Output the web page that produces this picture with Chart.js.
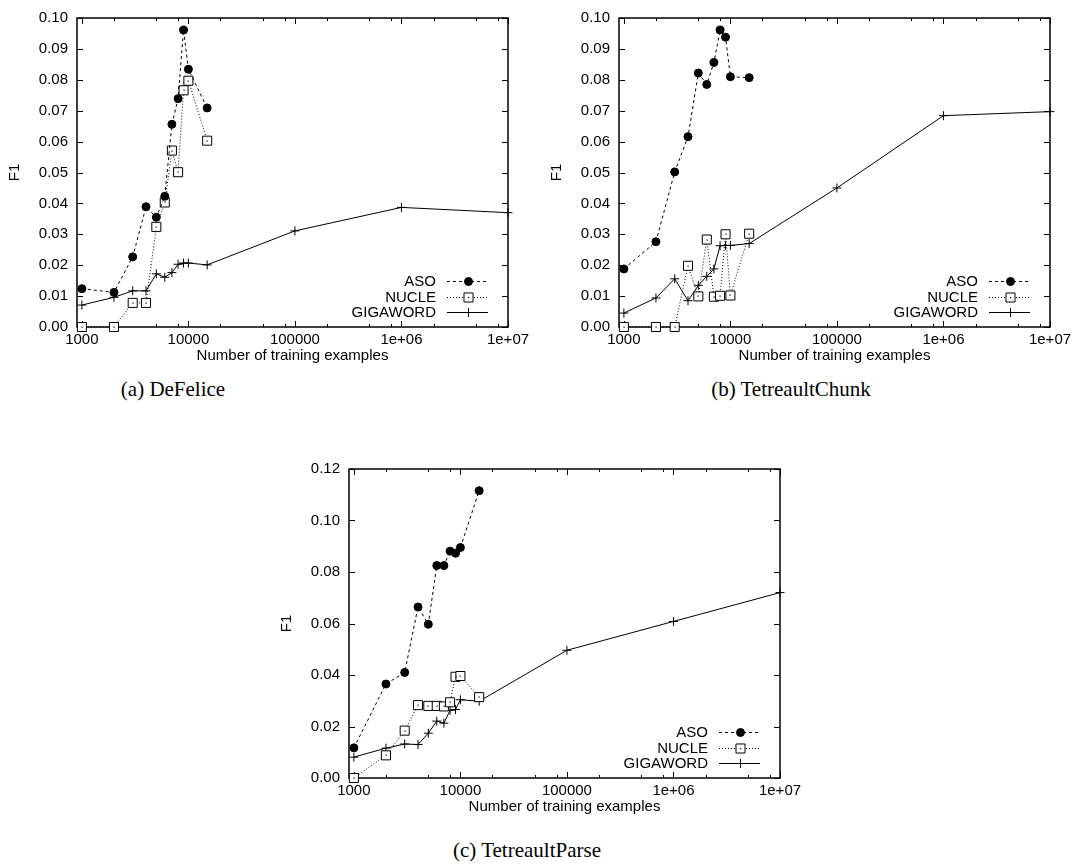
<!DOCTYPE html>
<html>
<head>
<meta charset="utf-8">
<script src="https://cdn.jsdelivr.net/npm/chart.js@4.4.0/dist/chart.umd.min.js"></script>
<style>
  html, body { margin: 0; padding: 0; background: #fff; }
  body { width: 1081px; height: 867px; position: relative; overflow: hidden; }
  canvas { position: absolute; }
  .cap { position: absolute; font-family: "Liberation Serif", "Times New Roman", serif; font-size: 21px; color: #000; white-space: nowrap; transform: translate(-50%, -50%); }
</style>
</head>
<body>
<canvas id="chartA" width="540" height="370" style="left:0px;top:0px"></canvas>
<canvas id="chartB" width="540" height="370" style="left:542px;top:0px"></canvas>
<canvas id="chartC" width="540" height="370" style="left:272px;top:451px"></canvas>
<div class="cap" style="left:173px;top:389px">(a) DeFelice</div>
<div class="cap" style="left:791px;top:389px">(b) TetreaultChunk</div>
<div class="cap" style="left:527px;top:850px">(c) TetreaultParse</div>
<script>
// training set sizes (x values)
var examples = [1000, 2000, 3000, 4000, 5000, 6000, 7000, 8000, 9000, 10000, 15000]
var gigaExamples = [1000, 2000, 3000, 4000, 5000, 6000, 7000, 8000, 9000, 10000, 15000, 100000, 1000000, 10000000]

// x axis labels
var xTickValues = [1000, 10000, 100000, 1000000, 10000000]
var xTickLabels = ['1000', '10000', '100000', '1e+06', '1e+07']

// (a) DeFelice
var asoDeFelice = [0.0124, 0.0112, 0.0227, 0.0389, 0.0355, 0.0423, 0.0656, 0.0739, 0.0961, 0.0834, 0.0709]
var nucleDeFelice = [0, 0, 0.0078, 0.0078, 0.0324, 0.0403, 0.0571, 0.0501, 0.0766, 0.0797, 0.0603]
var gigaDeFelice = [0.0071, 0.0096, 0.0117, 0.0117, 0.0172, 0.0161, 0.0176, 0.0203, 0.0207, 0.0207, 0.0201, 0.0311, 0.0387, 0.0370]

// (b) TetreaultChunk
var asoChunk = [0.0188, 0.0276, 0.0502, 0.0616, 0.0822, 0.0785, 0.0856, 0.0961, 0.0938, 0.0810, 0.0807]
var nucleChunk = [0, 0, 0, 0.0198, 0.0099, 0.0283, 0.0098, 0.0101, 0.0300, 0.0102, 0.0302]
var gigaChunk = [0.0045, 0.0094, 0.0156, 0.0085, 0.0135, 0.0164, 0.0188, 0.0263, 0.0264, 0.0264, 0.0270, 0.0450, 0.0684, 0.0697]

// (c) TetreaultParse
var asoParse = [0.0117, 0.0365, 0.0410, 0.0664, 0.0597, 0.0825, 0.0825, 0.0881, 0.0873, 0.0895, 0.1116]
var nucleParse = [0, 0.0088, 0.0184, 0.0283, 0.0280, 0.0280, 0.0278, 0.0294, 0.0393, 0.0396, 0.0314]
var gigaParse = [0.0081, 0.0116, 0.0132, 0.0130, 0.0174, 0.0221, 0.0213, 0.0263, 0.0266, 0.0304, 0.0298, 0.0496, 0.0608, 0.0720]

var seriesNames = ['ASO', 'NUCLE', 'GIGAWORD']
var minorSteps = [2, 5, 8]

Chart.defaults.font.family = '"Liberation Sans", Arial, Helvetica, sans-serif'
Chart.defaults.font.size = 15
Chart.defaults.color = '#000'

function toPoints(xs, ys) {
  return ys.map(function(v, i) { return { x: xs[i], y: v } })
}

// gnuplot style frame with inward ticks on all four sides
var frameTicks = {
  id: 'frameTicks',
  beforeDatasetsDraw: function(chart) {
    var ctx = chart.ctx, a = chart.chartArea
    var xs = chart.scales.x, ys = chart.scales.y
    ctx.save()
    ctx.strokeStyle = '#000'
    ctx.lineWidth = 1
    ctx.beginPath()
    xs.ticks.forEach(function(t) {
      var px = Math.round(xs.getPixelForValue(t.value)) + 0.5
      ctx.moveTo(px, a.bottom); ctx.lineTo(px, a.bottom - 6)
      ctx.moveTo(px, a.top); ctx.lineTo(px, a.top + 6)
    })
    for (var d = 1000; d < 1e7; d *= 10) {
      minorSteps.forEach(function(m) {
        var px = Math.round(xs.getPixelForValue(d * m)) + 0.5
        ctx.moveTo(px, a.bottom); ctx.lineTo(px, a.bottom - 3)
        ctx.moveTo(px, a.top); ctx.lineTo(px, a.top + 3)
      })
    }
    ys.ticks.forEach(function(t) {
      var py = Math.round(ys.getPixelForValue(t.value)) + 0.5
      ctx.moveTo(a.left, py); ctx.lineTo(a.left + 6, py)
      ctx.moveTo(a.right, py); ctx.lineTo(a.right - 6, py)
    })
    ctx.stroke()
    ctx.lineWidth = 1.5
    ctx.strokeRect(a.left, a.top, a.right - a.left, a.bottom - a.top)
    ctx.restore()
  },
  afterDatasetsDraw: function(chart) {
    var ctx = chart.ctx, a = chart.chartArea
    ctx.save()
    // little dot in the middle of the squares
    chart.data.datasets.forEach(function(ds, i) {
      if (!ds.centerDot) return
      ctx.fillStyle = '#000'
      chart.getDatasetMeta(i).data.forEach(function(p) {
        ctx.fillRect(Math.round(p.x) - 0.5, Math.round(p.y) - 0.5, 1.2, 1.2)
      })
    })
    // legend inside the plot, bottom right
    var rowOffsets = [46, 30.5, 15]
    ctx.font = '15px "Liberation Sans", Arial, sans-serif'
    ctx.textAlign = 'right'
    ctx.textBaseline = 'middle'
    chart.data.datasets.forEach(function(ds, i) {
      var y = Math.round(a.bottom - rowOffsets[i]) + 0.5
      ctx.fillStyle = '#000'
      ctx.fillText(ds.label, a.right - 72, y)
      ctx.strokeStyle = '#000'
      ctx.lineWidth = 1
      ctx.setLineDash(ds.borderDash || [])
      ctx.beginPath()
      ctx.moveTo(a.right - 61, y)
      ctx.lineTo(a.right - 20, y)
      ctx.stroke()
      ctx.setLineDash([])
      var mx = Math.round(a.right - 40.5) + 0.5
      ctx.fillStyle = ds.pointBackgroundColor
      Chart.helpers.drawPoint(ctx, { pointStyle: ds.pointStyle, radius: ds.pointRadius, borderWidth: 1, rotation: 0 }, mx, y)
      if (ds.centerDot) {
        ctx.fillStyle = '#000'
        ctx.fillRect(mx - 0.5, y - 0.5, 1.2, 1.2)
      }
    })
    ctx.restore()
  }
}

function makeChart(id, aso, nucle, giga, yMax, yStep) {
  var ctx = document.getElementById(id).getContext('2d')
  return new Chart(ctx, {
    type: 'line',
    data: {
      datasets: [
        {
          label: seriesNames[0],
          data: toPoints(examples, aso),
          borderColor: '#000',
          borderWidth: 1,
          borderDash: [3, 3],
          pointStyle: 'circle',
          pointRadius: 4,
          pointBackgroundColor: '#000',
          pointBorderColor: '#000',
          pointBorderWidth: 1,
          tension: 0,
          clip: false
        },
        {
          label: seriesNames[1],
          data: toPoints(examples, nucle),
          borderColor: '#000',
          borderWidth: 1,
          borderDash: [1, 2],
          pointStyle: 'rect',
          pointRadius: 6.4,
          pointBackgroundColor: '#fff',
          pointBorderColor: '#000',
          pointBorderWidth: 1,
          centerDot: true,
          tension: 0,
          clip: false
        },
        {
          label: seriesNames[2],
          data: toPoints(gigaExamples, giga),
          borderColor: '#000',
          borderWidth: 1,
          pointStyle: 'cross',
          pointRadius: 4.5,
          pointBackgroundColor: '#000',
          pointBorderColor: '#000',
          pointBorderWidth: 1,
          tension: 0,
          clip: false
        }
      ]
    },
    options: {
      responsive: false,
      animation: false,
      events: [],
      layout: { padding: { left: 0, right: 32, top: 13, bottom: 0 } },
      plugins: {
        legend: { display: false },
        tooltip: { enabled: false }
      },
      scales: {
        x: {
          type: 'logarithmic',
          min: 900,
          max: 10000000,
          grid: { display: false, drawTicks: false },
          border: { display: false },
          ticks: {
            autoSkip: false,
            maxRotation: 0,
            padding: 4,
            callback: function(v) {
              var k = xTickValues.indexOf(v)
              return k >= 0 ? xTickLabels[k] : ''
            }
          },
          afterBuildTicks: function(scale) {
            scale.ticks = xTickValues.map(function(v) { return { value: v } })
          },
          afterFit: function(scale) {
            scale.height = 43
            scale.paddingLeft = 0
            scale.paddingRight = 0
          },
          title: {
            display: true,
            text: 'Number of training examples',
            font: { size: 15 },
            padding: { top: 0, bottom: 5 }
          }
        },
        y: {
          min: 0,
          max: yMax,
          grid: { display: false, drawTicks: false },
          border: { display: false },
          ticks: {
            stepSize: yStep,
            padding: 9,
            callback: function(v) { return Number(v).toFixed(2) }
          },
          afterFit: function(scale) {
            scale.width = 77
          },
          title: {
            display: true,
            text: 'F1',
            font: { size: 15 },
            padding: { top: 6, bottom: 0 }
          }
        }
      }
    },
    plugins: [frameTicks]
  })
}

makeChart('chartA', asoDeFelice, nucleDeFelice, gigaDeFelice, 0.10, 0.01)
makeChart('chartB', asoChunk, nucleChunk, gigaChunk, 0.10, 0.01)
makeChart('chartC', asoParse, nucleParse, gigaParse, 0.12, 0.02)
</script>
</body>
</html>
